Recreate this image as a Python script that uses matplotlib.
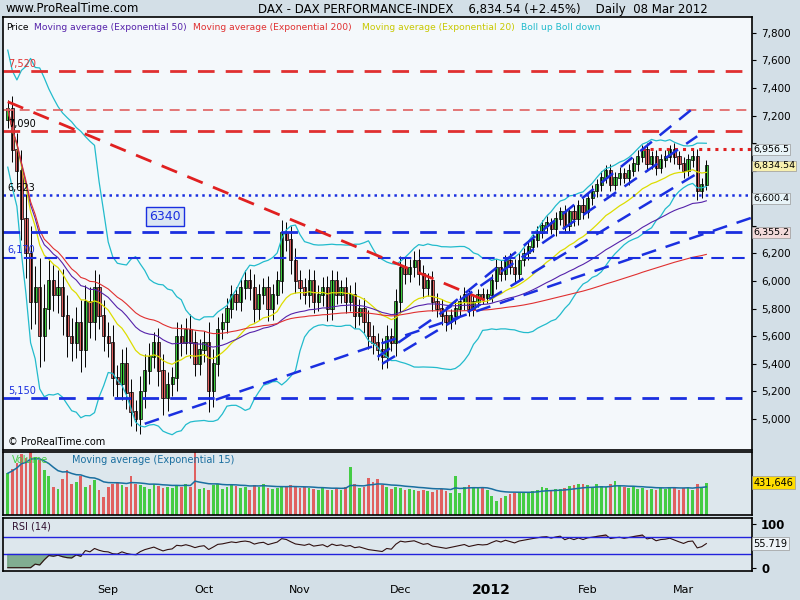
import matplotlib
matplotlib.use('Agg')
import matplotlib.pyplot as plt
import numpy as np
import pandas as pd

# ---- data (approximate) ----
closes = [7250, 6950, 6800, 6450, 6200, 5850, 5950, 5600, 5800, 6000, 5900, 5950, 5750, 5600, 5550, 5700, 5500, 5850, 5700, 5950, 5750, 5600,
          5550, 5300, 5250, 5400, 5190, 5050, 5000, 5200, 5350, 5450, 5550, 5350, 5150, 5250, 5300, 5600, 5550, 5650, 5550, 5400, 5500,
          5550, 5200, 5400, 5650, 5700, 5800, 5900, 5850, 5950, 6000, 5950, 5800, 5900, 5950, 5800, 5900, 6000, 6350, 6300, 6150, 6000,
          5950, 5900, 6000, 5850, 5900, 5950, 5800, 6000, 5900, 5950, 5850, 5900, 5750, 5800, 5700, 5600, 5550, 5500, 5450, 5600, 5550, 5850,
          6100, 6050, 6100, 6150, 6050, 5950, 6000, 5850, 5800, 5750, 5700, 5750, 5800, 5850, 5900, 5800, 5850, 5900, 5880, 5900,
          6000, 6100, 6050, 6150, 6100, 6050, 6150, 6200, 6250, 6300, 6350, 6400, 6420, 6380, 6450, 6500, 6400, 6500, 6450, 6550, 6500,
          6600, 6650, 6700, 6750, 6800, 6700, 6750, 6780, 6750, 6800, 6850, 6900, 6950, 6850, 6900, 6820, 6880, 6900, 6950, 6900, 6850,
          6800, 6880, 6900, 6650, 6700, 6834.54]
wicks = [60, 90, 120, 150, 180, 200, 160, 220, 180, 150, 120, 130, 140, 150, 130, 110, 160, 120, 110, 130, 100, 110,
         100, 130, 90, 110, 120, 100, 90, 110, 120, 100, 80, 110, 120, 90, 80, 100, 90, 80, 110, 90, 80,
         90, 150, 110, 90, 70, 80, 70, 60, 70, 80, 90, 100, 80, 70, 90, 80, 70, 90, 80, 100, 90,
         80, 70, 90, 80, 70, 80, 90, 80, 70, 60, 80, 70, 90, 70, 80, 90, 80, 70, 90, 80, 60, 90,
         80, 70, 60, 70, 80, 70, 60, 70, 60, 70, 60, 50, 60, 50, 60, 50, 50, 40, 50, 40,
         50, 60, 50, 40, 50, 60, 50, 40, 50, 40, 50, 40, 50, 40, 50, 40, 50, 40, 50, 40, 50,
         40, 50, 40, 50, 40, 50, 40, 50, 40, 50, 40, 50, 40, 50, 40, 50, 40, 50, 40, 50, 40,
         50, 40, 50, 60, 50, 40]
volume = [560, 620, 700, 820, 760, 900, 780, 740, 600, 520, 380, 350, 480, 600, 420, 440, 520, 380, 400, 470, 340, 240,
          370, 420, 430, 400, 380, 520, 420, 400, 380, 350, 420, 390, 360, 380, 360, 400, 380, 420, 380, 860, 350,
          360, 340, 400, 420, 350, 380, 410, 390, 360, 380, 340, 400, 380, 420, 360, 350, 360, 370, 380, 400, 370,
          360, 380, 360, 350, 330, 360, 340, 330, 360, 340, 380, 640, 410, 360, 380, 490, 440, 480, 400, 370, 350, 380,
          360, 330, 350, 340, 320, 340, 320, 310, 330, 350, 320, 300, 520, 300, 380, 400, 380, 360, 380, 340,
          250, 190, 230, 260, 280, 300, 310, 300, 290, 320, 340, 380, 360, 340, 350, 350, 360, 390, 400, 410, 420,
          400, 380, 410, 390, 370, 420, 450, 400, 380, 360, 380, 350, 360, 340, 350, 330, 360, 350, 380, 370, 340,
          360, 380, 330, 420, 380, 431.646]
months = ['Sep', 'Oct', 'Nov', 'Dec', '2012', 'Feb', 'Mar']
month_idx = [22, 43, 64, 86, 106, 127, 148]
red_levels = [7520, 7090]
blue_levels = [6623, 6355, 6170, 5150]

n = len(closes)
x = np.arange(n)
c = np.array(closes, dtype=float)
o = np.r_[c[0] - 80, c[:-1]]
hi = np.maximum(o, c) + np.array(wicks)
lo = np.minimum(o, c) - np.array(wicks)
s = pd.Series(c)
ema20 = s.ewm(span=20).mean()
ema50 = s.ewm(span=50).mean()
ema200 = s.ewm(span=200).mean()
ma = s.rolling(20, min_periods=1).mean()
sd = s.rolling(20, min_periods=2).std().bfill()
bu, bd = ma + 2 * sd, ma - 2 * sd
d = s.diff().fillna(0)
up = d.clip(lower=0).ewm(alpha=1 / 14).mean()
dn = (-d.clip(upper=0)).ewm(alpha=1 / 14).mean()
rsi = 100 - 100 / (1 + up / dn.replace(0, 1e-9))
vol = pd.Series(volume) * 1000
vema = vol.ewm(span=15).mean()

fig = plt.figure(figsize=(8, 6), dpi=100)
fig.patch.set_facecolor('#d3dfe7')
ax = fig.add_axes([0.004, 0.25, 0.936, 0.722])
axv = fig.add_axes([0.004, 0.142, 0.936, 0.105])
axr = fig.add_axes([0.004, 0.048, 0.936, 0.088])
for a in (ax, axv, axr):
    a.set_xlim(-1, 163)
    a.tick_params(axis='x', bottom=False, labelbottom=False)
    a.yaxis.tick_right()
    a.tick_params(axis='y', labelsize=7.5, length=3)
    for sp in a.spines.values():
        sp.set_linewidth(1.2)
ax.set_facecolor('#f4f8fb')
axv.set_facecolor('#dde7ed')
axr.set_facecolor('#dde7ed')

# main price panel (tick labels hidden where value boxes cover them)
ax.set_ylim(4775, 7916)
ticks = list(range(5000, 7801, 200))
ax.set_yticks(ticks)
ax.set_yticklabels(['' if v in (6400, 6600, 6800, 7000) else f'{v:,}' for v in ticks])
col = np.where(c >= o, '#3dcc3d', '#e06060')
ax.vlines(x, lo, hi, color='black', lw=0.7)
ax.bar(x, np.abs(c - o) + 5, bottom=np.minimum(o, c), width=0.7, color=col, edgecolor='black', lw=0.5)
ax.plot(x, bu, color='#22bbcc', lw=0.9)
ax.plot(x, bd, color='#22bbcc', lw=0.9)
ax.plot(x, ema20, color='#dddd00', lw=0.9)
ax.plot(x, ema50, color='#5522aa', lw=0.8)
ax.plot(x, ema200, color='#e03030', lw=0.8)
for lv in red_levels:
    ax.axhline(lv, color='#e03030', ls=(0, (6, 4)), lw=2)
    ax.text(0, lv + 30, f'{lv:,}', fontsize=7, color='#e03030' if lv == 7520 else 'black')
ax.axhline(7240, color='#e06060', ls=(0, (6, 4)), lw=1.2)
ax.axhline(6623, color='#1a2fe0', ls=':', lw=1.8)
ax.text(0, 6653, '6,623', fontsize=7)
for lv in [6355, 6170, 5150]:
    ax.axhline(lv, color='#1a2fe0', ls=(0, (6, 4)), lw=2 if lv != 6170 else 1.5)
    if lv != 6355:
        ax.text(0, lv + 30, f'{lv:,}', fontsize=7, color='#1a2fe0')
ax.text(31, 6445, '6340', fontsize=9, color='#1a2fe0',
        bbox=dict(boxstyle='square,pad=0.25', facecolor='#dbe6f3', edgecolor='#1a2fe0'))
ax.plot([139, 163], [6956, 6956], color='#e02020', ls=':', lw=2.2)
ax.plot([0, 106], [7300, 5840], color='#e02020', ls=(0, (6, 4)), lw=2)
ax.plot([30, 163], [4965, 6460], color='#1a2fe0', ls=(0, (6, 4)), lw=1.8)
ax.plot([81, 151], [5450, 7050], color='#1a2fe0', ls=(0, (6, 4)), lw=1.8)
ax.plot([96, 150], [5800, 7250], color='#1a2fe0', ls=(0, (6, 4)), lw=1.8)
ax.plot([82, 152], [5400, 6800], color='#1a2fe0', ls=(0, (6, 4)), lw=1.8)
for val, txt, fc in [(6956.5, '6,956.5', '#e8f4f8'), (6834.54, '6,834.54', '#f7f0b0'),
                     (6600.4, '6,600.4', '#e8f4f8'), (6355.2, '6,355.2', '#f3dada')]:
    ax.text(163.3, val, txt, fontsize=6.8, va='center', ha='left', clip_on=False,
            bbox=dict(boxstyle='square,pad=0.1', facecolor=fc, edgecolor='#999999', lw=0.5))
ax.text(0, 4810, '© ProRealTime.com', fontsize=7)
leg = [('Price', 'black', 6), ('Moving average (Exponential 50)', '#5522aa', 34),
       ('Moving average (Exponential 200)', '#e03030', 193),
       ('Moving average (Exponential 20)', '#c8c800', 362), ('Boll up Boll down', '#22bbcc', 521)]
for t, cl, px in leg:
    fig.text(px / 800, 1 - 27 / 600, t, color=cl, fontsize=6.6, va='center')

# volume panel
axv.set_ylim(0, 850000)
axv.set_yticks([])
axv.bar(x, vol, width=0.6, color=np.where(c >= o, '#44cc44', '#e06060'))
axv.plot(x, vema, color='#1a6fa0', lw=1.1)
axv.text(163.3, 431646, '431,646', fontsize=7, va='center', clip_on=False,
         bbox=dict(boxstyle='square,pad=0.15', facecolor='#ffdd00', edgecolor='#999999', lw=0.5))
axv.text(1, 810000, 'Volume', color='#44cc44', fontsize=7, va='top')
axv.text(14, 810000, 'Moving average (Exponential 15)', color='#1a6fa0', fontsize=7, va='top')

# RSI panel
axr.set_ylim(-8, 112)
axr.set_yticks([0, 100])
axr.set_yticklabels(['0', '100'], fontweight='bold', fontsize=8.5)
axr.plot(x, rsi, color='#301010', lw=0.8)
axr.axhline(70, color='#2222dd', lw=1)
axr.axhline(30, color='#2222dd', lw=1)
axr.fill_between(x, rsi, 30, where=rsi < 30, color='#6a9f7a', alpha=0.8)
axr.fill_between(x, rsi, 70, where=rsi > 70, color='#c09090', alpha=0.8)
axr.text(1, 106, 'RSI (14)', fontsize=7, va='top', color='#301030')
axr.text(163.3, rsi.iloc[-1], '55.719', fontsize=7, va='center', clip_on=False,
         bbox=dict(boxstyle='square,pad=0.15', facecolor='#eef4f8', edgecolor='#999999', lw=0.5))

for m, i in zip(months, month_idx):
    fig.text((3 + (i + 1) * 4.567) / 800, 1 - 590 / 600, m, ha='center', va='center',
             fontsize=8 if m != '2012' else 10, fontweight='bold' if m == '2012' else 'normal')

fig.text(6 / 800, 1 - 9 / 600, 'www.ProRealTime.com', fontsize=8.5, va='center')
fig.text(258 / 800, 1 - 9 / 600, 'DAX - DAX PERFORMANCE-INDEX    6,834.54 (+2.45%)    Daily  08 Mar 2012',
         fontsize=8.5, va='center')

fig.savefig('out.png', dpi=100, facecolor=fig.get_facecolor())
